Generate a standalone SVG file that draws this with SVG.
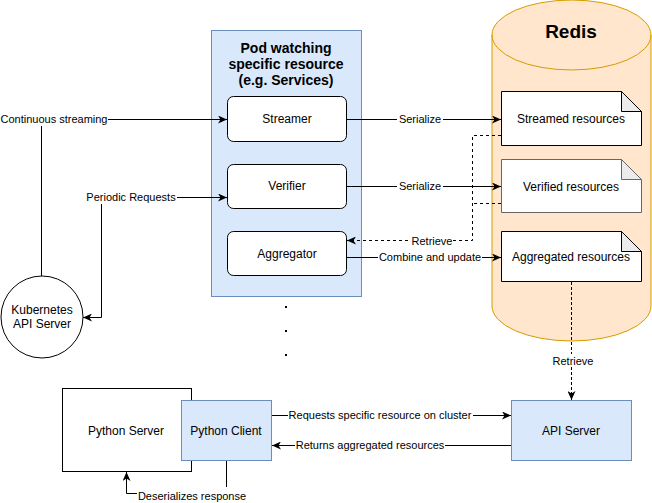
<svg xmlns="http://www.w3.org/2000/svg" width="652" height="503" viewBox="0 0 652 503">
<style>
text{font-family:"Liberation Sans",Arial,sans-serif;fill:#000;text-anchor:middle}
.n{font-size:12px}
.l{font-size:11px}
.t{font-size:14px;font-weight:bold}
.box{fill:#fff;stroke:#000;stroke-width:1}
.blue{fill:#dae8fc;stroke:#6c8ebf;stroke-width:1}
.e{fill:none;stroke:#000;stroke-width:1}
.d{stroke-dasharray:3,3}
.bg{fill:#fff}
</style>
<defs>
<marker id="a" markerWidth="10" markerHeight="8" refX="9" refY="4" orient="auto-start-reverse" markerUnits="userSpaceOnUse">
<path d="M0,0 L9,4 L0,8 L2.5,4 Z" fill="#000"/>
</marker>
</defs>
<g id="redis">
<path d="M492,35 A79.5,35 0 0 1 651,35 L651,306 A79.5,35 0 0 1 492,306 Z" fill="#ffe6cc" stroke="#d79b00"/>
<path d="M492,35 A79.5,35 0 0 0 651,35" fill="none" stroke="#d79b00"/>
<text x="571" y="38" style="font-size:19px;font-weight:bold">Redis</text>
</g>
<g id="pod">
<rect x="211.5" y="30.5" width="150" height="266" class="blue"/>
<text class="t" x="286" y="53">Pod watching</text>
<text class="t" x="286" y="69">specific resource</text>
<text class="t" x="286" y="85">(e.g. Services)</text>
</g>
<g id="streamer"><rect x="227.5" y="96.5" width="119" height="45" rx="6" class="box"/><text class="n" x="287" y="123">Streamer</text></g>
<g id="verifier"><rect x="227.5" y="164.5" width="119" height="44" rx="6" class="box"/><text class="n" x="287" y="190">Verifier</text></g>
<g id="aggregator"><rect x="227.5" y="231.5" width="119" height="44" rx="6" class="box"/><text class="n" x="287" y="258">Aggregator</text></g>
<g id="streamed">
<path d="M501.5,91.5 H621.5 L641.5,111.5 V145.5 H501.5 Z" class="box"/>
<path d="M621.5,91.5 V111.5 H641.5 Z" fill="#ebebeb" stroke="#000"/>
<text class="n" x="571" y="123">Streamed resources</text>
</g>
<g id="verified">
<path d="M501.5,159.5 H621.5 L641.5,179.5 V212.5 H501.5 Z" fill="#fff" stroke="#666"/>
<path d="M621.5,159.5 V179.5 H641.5 Z" fill="#ebebeb" stroke="#666"/>
<text class="n" x="571" y="191">Verified resources</text>
</g>
<g id="aggregated">
<path d="M501.5,231.5 H621.5 L641.5,251.5 V281.5 H501.5 Z" class="box"/>
<path d="M621.5,231.5 V251.5 H641.5 Z" fill="#ebebeb" stroke="#000"/>
<text class="n" x="571" y="261">Aggregated resources</text>
</g>
<g id="k8s">
<circle cx="42" cy="317" r="41" class="box"/>
<text class="n" x="42" y="314">Kubernetes</text>
<text class="n" x="42" y="328">API Server</text>
</g>
<g id="pyserver"><rect x="62.5" y="388.5" width="129" height="83" class="box"/><text class="n" x="126" y="435">Python Server</text></g>
<g id="pyclient"><rect x="181.5" y="400.5" width="90" height="60" class="blue"/><text class="n" x="226" y="435">Python Client</text></g>
<g id="apiserver"><rect x="511.5" y="400.5" width="120" height="60" class="blue"/><text class="n" x="571" y="435">API Server</text></g>
<g id="dots" fill="#000">
<rect x="285" y="306" width="2" height="2"/>
<rect x="285" y="330" width="2" height="2"/>
<rect x="285" y="354" width="2" height="2"/>
</g>
<g id="connectors">
<path class="e" d="M41.5,276 V119.5 H227" marker-end="url(#a)"/>
<rect class="bg" x="0" y="112" width="108" height="14"/>
<text class="l" x="54" y="123">Continuous streaming</text>
<path class="e" d="M227,197.5 H101.5 V317.5 H83" marker-start="url(#a)" marker-end="url(#a)"/>
<rect class="bg" x="86" y="190" width="91" height="14"/>
<text class="l" x="131" y="201">Periodic Requests</text>
<path class="e" d="M347,119.5 H501" marker-end="url(#a)"/>
<rect class="bg" x="397" y="112" width="46" height="14"/>
<text class="l" x="420" y="123">Serialize</text>
<path class="e" d="M347,186.5 H501" marker-end="url(#a)"/>
<rect class="bg" x="397" y="179" width="46" height="14"/>
<text class="l" x="420" y="190">Serialize</text>
<path class="e d" d="M501,135.5 H472.5 V240.5 H347" marker-end="url(#a)"/>
<path class="e d" d="M501,203.5 H472.5"/>
<rect class="bg" x="411" y="234" width="42" height="13"/>
<text class="l" x="432" y="245">Retrieve</text>
<path class="e" d="M347,257.5 H501" marker-end="url(#a)"/>
<rect class="bg" x="378" y="250" width="104" height="14"/>
<text class="l" x="430" y="261">Combine and update</text>
<path class="e d" d="M571.5,282 V400" marker-end="url(#a)" style="stroke-dasharray:3,2"/>
<rect class="bg" x="551" y="354" width="44" height="13"/>
<text class="l" x="573" y="365">Retrieve</text>
<path class="e" d="M272,415.5 H511" marker-end="url(#a)"/>
<rect class="bg" x="288" y="408" width="185" height="14"/>
<text class="l" x="380" y="419">Requests specific resource on cluster</text>
<path class="e" d="M511,445.5 H272" marker-end="url(#a)"/>
<rect class="bg" x="295" y="438" width="150" height="14"/>
<text class="l" x="370" y="449">Returns aggregated resources</text>
<path class="e" d="M226.5,461 V493.5 H126.5 V472" marker-end="url(#a)"/>
<rect class="bg" x="137" y="487" width="110" height="14"/>
<text class="l" x="192" y="500">Deserializes response</text>
</g>
</svg>
